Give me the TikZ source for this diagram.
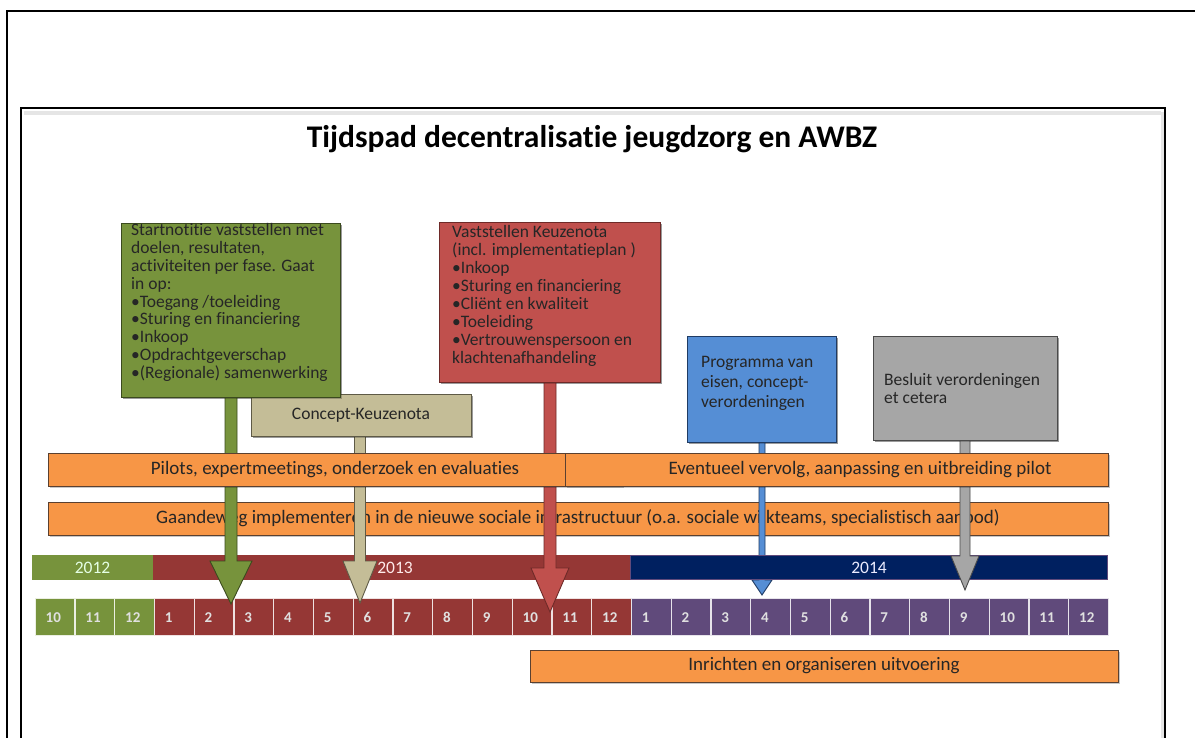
\documentclass[tikz,border=0pt]{standalone}
\usepackage{fontspec}
\setmainfont{Carlito}[Ligatures=NoCommon]
\usetikzlibrary{calc,shadows}
\definecolor{cgreen}{HTML}{77933C}
\definecolor{cgreenb}{HTML}{3B4A1E}
\definecolor{ctan}{HTML}{C4BD97}
\definecolor{ctanb}{HTML}{5E5A46}
\definecolor{cred}{HTML}{C0504D}
\definecolor{credb}{HTML}{6E2A28}
\definecolor{cblue}{HTML}{558ED5}
\definecolor{cblueb}{HTML}{1F3B63}
\definecolor{cgray}{HTML}{A6A6A6}
\definecolor{cgrayb}{HTML}{4A4A4A}
\definecolor{corange}{HTML}{F79646}
\definecolor{corangeb}{HTML}{5A4030}
\definecolor{ydred}{HTML}{953735}
\definecolor{ynavy}{HTML}{002060}
\definecolor{ypurple}{HTML}{604A7B}
\definecolor{txt}{HTML}{262626}
\newcommand{\fatarrow}[6]{%
  \coordinate (#1top) at (#2 |- #1.south);
  \draw[#6] ($(#1top)+(-#3,0)$) -- ($(#2)+(-#3,-#5)$) -- ($(#2)+(-#4,-#5)$) -- (#2)
    -- ($(#2)+(#4,-#5)$) -- ($(#2)+(#3,-#5)$) -- ($(#1top)+(#3,0)$) -- cycle;}
\begin{document}
\begin{tikzpicture}[x=1pt,y=-1pt,
  shad/.style={drop shadow={shadow xshift=1.5pt,shadow yshift=-2pt,opacity=0.22,fill=black}},
  callout/.style={rectangle, draw=#1, line width=0.9pt, inner sep=0pt, shad},
  boxtext/.style={anchor=north west, inner sep=0pt, align=left, text=txt,
    font=\fontsize{17.5}{18}\selectfont},
  obar/.style={rectangle, fill=corange, draw=corangeb, line width=0.9pt, inner sep=0pt,
    text=txt, font=\fontsize{19}{20}\selectfont, shad},
  ybar/.style={rectangle, inner sep=0pt, minimum height=25pt, font=\fontsize{17.5}{18}\selectfont},
  cell/.style={rectangle, draw=white!85!#1, fill=#1, line width=1.4pt, inner sep=0pt,
    minimum width=39.75pt, minimum height=37pt, anchor=north west},
  mlab/.style={anchor=west, inner sep=0pt, font=\fontsize{15}{16}\selectfont\bfseries, text=white!88!black},
  arr/.style={fill=#1, draw=#1b, line width=0.9pt, line join=miter}
]
\useasboundingbox (0,0) rectangle (1195,738);
\fill[white] (0,0) rectangle (1195,738);
% frames
\draw[line width=2.5pt] (7,738) -- (7,11) -- (1195,11);
\draw[black!10, line width=4pt] (24,113) -- (1161,113);
\draw[black!10, line width=3pt] (1162,112) -- (1162,738);
\draw[line width=2pt] (21,738) -- (21,108) -- (1165,108) -- (1165,738);
% title
\node[anchor=base, inner sep=0pt, font=\fontsize{31.5}{36}\selectfont\bfseries] (title) at (592,148)
  {Tijdspad decentralisatie jeugdzorg en AWBZ};
% callout boxes (positions)
\node[callout=cgreenb, fill=cgreen, minimum width=219pt, minimum height=174pt] (gbox) at (230.5,310) {};
\node[callout=ctanb, fill=ctan, minimum width=220pt, minimum height=42pt] (tbox) at (361,415) {};
\node[callout=credb, fill=cred, minimum width=221pt, minimum height=160pt] (rbox) at (549.5,302) {};
\node[callout=cblueb, fill=cblue, minimum width=149pt, minimum height=106pt] (bbox) at (761.5,389) {};
\node[callout=cgrayb, fill=cgray, minimum width=184pt, minimum height=104pt] (grbox) at (965,388) {};
% tip coordinates
\coordinate (tipG) at (231,604);
\coordinate (tipT) at (360,603);
\coordinate (tipR) at (550,612);
\coordinate (tipB) at (762,595);
\coordinate (tipGr) at (965,590);
% bar C (under the arrows)
\node[obar, minimum width=1060pt, minimum height=33pt] (barC) at (578,518.5)
  {Gaandeweg implementeren in de nieuwe sociale infrastructuur (o.a. sociale wijkteams, specialistisch aanbod)};
% blue arrow (under year bar)
\fatarrow{bbox}{tipB}{3}{10}{15}{arr=cblue}
% year bar
\node[ybar, fill=cgreen, minimum width=121pt, text=green!10!white] (y2012) at (92.5,567.5) {2012};
\node[ybar, fill=ydred, minimum width=477pt, text=red!8!white] (y2013) at (391.5,567.5) {\hspace*{7pt}2013};
\node[ybar, fill=ynavy, draw=ypurple, line width=1.5pt, minimum width=477pt, minimum height=24pt, text=blue!8!white] (y2014) at (869,567.5) {2014};
% month cells
\foreach \i in {0,...,26}{
  \pgfmathsetmacro{\xo}{34.5+39.75*\i}
  \ifnum\i<3
    \pgfmathtruncatemacro{\mm}{10+\i}\def\cc{cgreen}
  \else\ifnum\i<15
    \pgfmathtruncatemacro{\mm}{\i-2}\def\cc{ydred}
  \else
    \pgfmathtruncatemacro{\mm}{\i-14}\def\cc{ypurple}
  \fi\fi
  \node[cell=\cc] (m\i) at (\xo,598) {};
  \node[mlab] (ml\i) at ($(m\i.west)+(11,0)$) {\mm};
}
% arrows over the timeline
\fatarrow{gbox}{tipG}{6}{21}{43}{arr=cgreen}
\fatarrow{tbox}{tipT}{5.5}{17}{42}{arr=ctan}
\fatarrow{rbox}{tipR}{6}{19}{44}{arr=cred}
\fatarrow{grbox}{tipGr}{5}{14}{34}{arr=cgray}
% bars A and B (over the arrow stems)
\node[obar, minimum width=574pt, minimum height=33pt] (barA) at (335,469.5)
  {Pilots, expertmeetings, onderzoek en evaluaties};
\node[obar, minimum width=543pt, minimum height=33pt] (barB) at (836.5,469.5) {};
\node[inner sep=0pt, text=txt, font=\fontsize{19}{20}\selectfont] (barBtext) at (860,469.5)
  {Eventueel vervolg, aanpassing en uitbreiding pilot};
% bar D
\node[obar, minimum width=588pt, minimum height=32pt] (barD) at (824,666)
  {Inrichten en organiseren uitvoering};
% callout boxes redrawn on top (tan then green)
\node[callout=ctanb, fill=ctan, minimum width=220pt, minimum height=42pt, text=txt,
  font=\fontsize{17.5}{18}\selectfont] (tboxT) at (tbox) {Concept-Keuzenota};
\node[callout=cgreenb, fill=cgreen, minimum width=219pt, minimum height=174pt] (gboxT) at (gbox) {};
\node[callout=credb, fill=cred, minimum width=221pt, minimum height=160pt] (rboxT) at (rbox) {};
\node[callout=cblueb, fill=cblue, minimum width=149pt, minimum height=106pt] (bboxT) at (bbox) {};
\node[callout=cgrayb, fill=cgray, minimum width=184pt, minimum height=104pt] (grboxT) at (grbox) {};
% texts
\node[boxtext, font=\fontsize{17.5}{17.8}\selectfont] (gtext) at (131,223.5) {Startnotitie vaststellen met\\doelen, resultaten,\\activiteiten per fase. Gaat\\in op:\\•Toegang /toeleiding\\•Sturing en financiering\\•Inkoop\\•Opdrachtgeverschap\\•(Regionale) samenwerking};
\node[boxtext] (rtext) at (452,225) {Vaststellen Keuzenota\\(incl. implementatieplan )\\•Inkoop\\•Sturing en financiering\\•Cliënt en kwaliteit\\•Toeleiding\\•Vertrouwenspersoon en\\klachtenafhandeling};
\node[boxtext, font=\fontsize{17.5}{20}\selectfont] (btext) at (701,356) {Programma van\\eisen, concept-\\verordeningen};
\node[boxtext] (grtext) at (884,373) {Besluit verordeningen\\et cetera};
\end{tikzpicture}
\end{document}
